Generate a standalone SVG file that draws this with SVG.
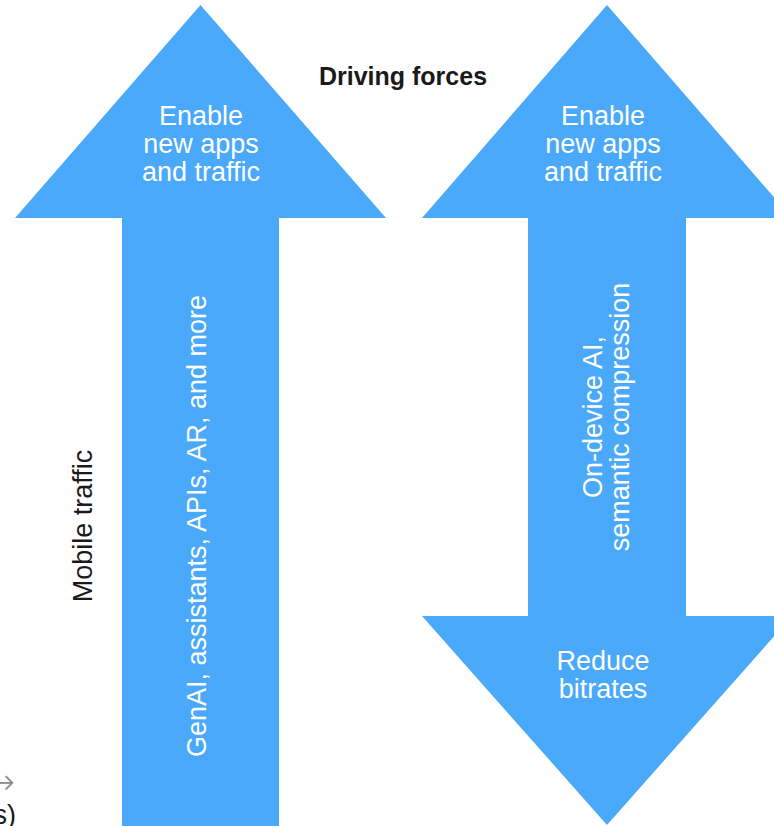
<svg xmlns="http://www.w3.org/2000/svg" width="774" height="826" viewBox="0 0 774 826">
  <style>
    .arrow { fill: #4aa9fa; }
    .lbl { font-family: "Liberation Sans", Arial, sans-serif; font-size: 27px; fill: #ffffff; text-anchor: middle; }
    .dark { font-family: "Liberation Sans", Arial, sans-serif; font-size: 27px; fill: #1a1a1a; text-anchor: middle; }
    .title { font-family: "Liberation Sans", Arial, sans-serif; font-size: 25px; font-weight: bold; fill: #1a1a1a; text-anchor: middle; }
  </style>
  <rect width="774" height="826" fill="#ffffff"/>

  <!-- heading -->
  <g id="title">
    <text class="title" x="403" y="85">Driving forces</text>
  </g>

  <!-- vertical axis label -->
  <g id="axis-label">
    <text class="dark" transform="translate(92,526) rotate(-90)">Mobile traffic</text>
  </g>

  <!-- upward arrow: new apps increase traffic -->
  <g id="increase-arrow">
    <polygon class="arrow" points="200.5,5 386,218 279,218 279,826 122,826 122,218 15,218"/>
    <text class="lbl" x="201" y="125">Enable</text>
    <text class="lbl" x="201" y="153">new apps</text>
    <text class="lbl" x="201" y="181">and traffic</text>
    <text class="lbl" transform="translate(206,526) rotate(-90)">GenAI, assistants, APIs, AR, and more</text>
  </g>

  <!-- double arrow: apps up, bitrates down -->
  <g id="balance-arrow">
    <polygon class="arrow" points="607,5 792,218 686,218 686,616 792,616 607,825 422,616 528,616 528,218 422,218"/>
    <text class="lbl" x="603" y="125">Enable</text>
    <text class="lbl" x="603" y="153">new apps</text>
    <text class="lbl" x="603" y="181">and traffic</text>
    <text class="lbl" transform="translate(602,417) rotate(-90)">On-device AI,</text>
    <text class="lbl" transform="translate(629,417) rotate(-90)">semantic compression</text>
    <text class="lbl" x="603" y="670">Reduce</text>
    <text class="lbl" x="603" y="698">bitrates</text>
  </g>

  <!-- partial labels at the lower-left edge -->
  <g id="edge-labels">
    <text x="15" y="794" font-family="DejaVu Sans, sans-serif" font-size="36" font-weight="200" fill="#8a8a8a" text-anchor="end">→</text>
    <text x="16" y="824" font-family="Liberation Sans, Arial, sans-serif" font-size="27" fill="#1a1a1a" text-anchor="end">s)</text>
  </g>
</svg>
